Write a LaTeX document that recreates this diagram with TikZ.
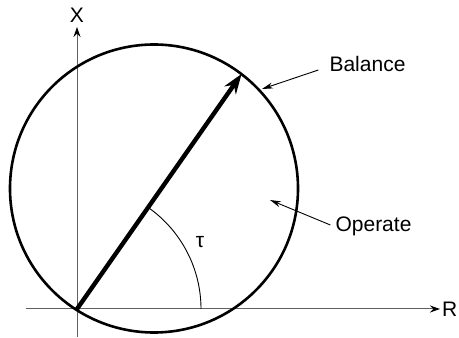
\documentclass[tikz,border=0pt]{standalone}
\usepackage{fontspec}
\setmainfont{Liberation Sans}
\usetikzlibrary{arrows.meta, positioning, calc}

\begin{document}
\begin{tikzpicture}[
      x=1pt, y=1pt,
      axis/.style={draw=gray!75!black, line width=1pt, -{Stealth[length=10pt, width=7pt, black]}},
      ring/.style={draw=black, line width=2.6pt},
      vec/.style={draw=black, line width=4.4pt, -{Stealth[length=20pt, width=14pt]}},
      ang/.style={draw=black, line width=0.9pt},
      note/.style={draw=black, line width=0.9pt, -{Stealth[length=11pt, width=6pt]}},
      lbl/.style={font=\fontsize{21}{24}\selectfont, inner sep=1pt}
    ]
    \useasboundingbox (0,0) rectangle (459,338);

    % ---- Achsen ----
    \coordinate (o) at (77,29);
    \coordinate (xbot) at (77,1);
    \coordinate (xtop) at (77,311);
    \coordinate (rlft) at (26,29);
    \coordinate (rrgt) at (440,29);
    \draw[axis] (xbot) -- (xtop);
    \draw[axis] (rlft) -- (rrgt);
    \node[lbl] (xlab) at (77,323) {X};
    \node[lbl, anchor=west] (rlab) at (441,29) {R};

    % ---- Kreis und Zeiger ----
    \coordinate (mid) at (154,149.5);
    \draw[ring] (mid) circle (144);
    \coordinate (tip) at ($(o)+(55:287)$);
    \draw[vec] (o) -- (tip);

    % ---- Winkel ----
    \draw[ang] ($(o)+(124,0)$) arc (0:55:124);
    \node[lbl] (tau) at (200,96) {τ};

    % ---- Beschriftungen ----
    \node[lbl] (bal) at (367.5,274) {Balance};
    \node[lbl] (op)  at (373.5,112) {Operate};
    \coordinate (balpt) at (262,249);
    \coordinate (oppt)  at (270,138);
    \draw[note] (bal.west) ++(-10,-6) -- (balpt);
    \draw[note] (op.west) ++(-4,1) -- (oppt);

    \end{tikzpicture}
\end{document}
